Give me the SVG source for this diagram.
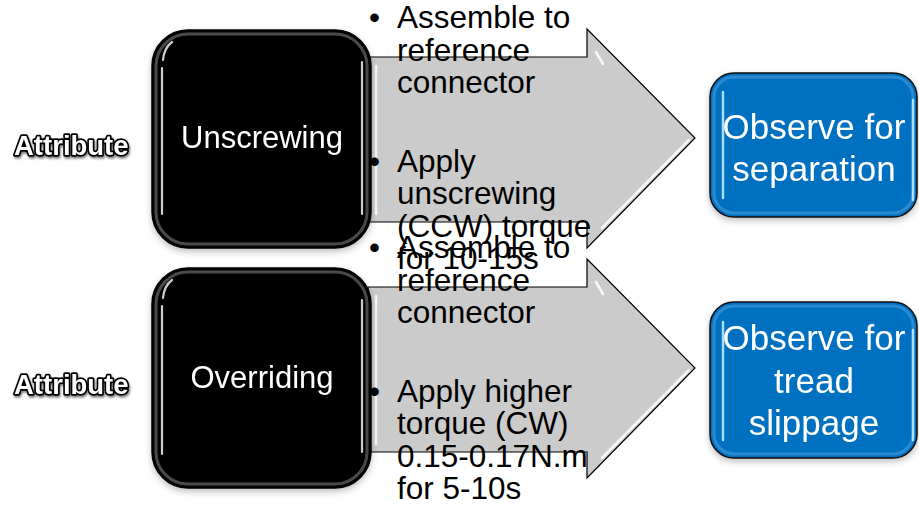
<svg xmlns="http://www.w3.org/2000/svg" width="919" height="506" viewBox="0 0 919 506">
<defs>
<style>
.arrow{fill:#cbcbcb;stroke:#000;stroke-width:1.2}
.ahl{fill:none;stroke:#fff;stroke-width:2.5;stroke-linecap:round;opacity:.85}
.blk{fill:#000;stroke:#000;stroke-width:1.5}
.blkring{fill:none;stroke:#6a6a6a;stroke-width:3;opacity:.7}
.hl{fill:none;stroke:#fff;stroke-width:2.2;stroke-linecap:round;opacity:.8}
.blu{fill:#0070c0;stroke:#111;stroke-width:1.5}
.bluring{fill:none;stroke:#3d95d6;stroke-width:3;opacity:.7}
.bhl{fill:none;stroke:#bfe6ff;stroke-width:2.5;stroke-linecap:round;opacity:.9}
.t{font-family:"Liberation Sans",Arial,sans-serif}
.bt{font-size:31.5px;fill:#000}
.wt{font-size:31px;fill:#fff;text-anchor:middle}
.ot{font-size:35px;fill:#fff;text-anchor:middle}
.attr{font-size:27.5px;font-weight:bold;fill:#fff;stroke:#000;stroke-width:3.4;paint-order:stroke;stroke-linejoin:round}
</style>
<filter id="sh" x="-10%" y="-10%" width="120%" height="125%">
<feDropShadow dx="0" dy="3" stdDeviation="3" flood-color="#000" flood-opacity="0.25"/>
</filter>
<filter id="tsh" x="-10%" y="-20%" width="120%" height="150%">
<feDropShadow dx="1" dy="2" stdDeviation="1.2" flood-color="#000" flood-opacity="0.5"/>
</filter>
</defs>

<g id="connectors">
<g id="arrow1">
<polygon class="arrow" points="368,57 587,57 587,29 695,138 587,248 587,222 368,222"/>
<path class="ahl" d="M376,66 L376,214"/>
<path class="ahl" d="M596,52 L603,64"/>
<path class="ahl" d="M602,228 L689,140"/>
</g>
<g id="arrow2">
<polygon class="arrow" points="368,287 587,287 587,259 695,368 587,478 587,452 368,452"/>
<path class="ahl" d="M376,296 L376,444"/>
<path class="ahl" d="M596,282 L603,294"/>
<path class="ahl" d="M602,458 L689,370"/>
</g>
</g>

<g id="label-attr1">
<text class="t attr" x="14" y="155" filter="url(#tsh)">Attribute</text>
</g>
<g id="label-attr2">
<text class="t attr" x="14" y="394" filter="url(#tsh)">Attribute</text>
</g>

<g id="node-unscrewing" filter="url(#sh)">
<rect class="blk" x="152" y="30" width="219" height="218" rx="36"/>
<rect class="blkring" x="156" y="34" width="211" height="210" rx="32"/>
<path class="hl" d="M162,68 L162,214"/>
<path class="hl" d="M172,42 Q164,48 163,60"/>
<path class="hl" d="M362,62 L362,214"/>
<text class="t wt" x="262" y="148">Unscrewing</text>
</g>

<g id="node-overriding" filter="url(#sh)">
<rect class="blk" x="152" y="268" width="219" height="220" rx="36"/>
<rect class="blkring" x="156" y="272" width="211" height="212" rx="32"/>
<path class="hl" d="M162,306 L162,454"/>
<path class="hl" d="M172,280 Q164,286 163,298"/>
<path class="hl" d="M362,300 L362,452"/>
<text class="t wt" x="262" y="388">Overriding</text>
</g>

<g id="node-separation" filter="url(#sh)">
<rect class="blu" x="710" y="73" width="207" height="144" rx="24"/>
<rect class="bluring" x="714" y="77" width="199" height="136" rx="20"/>
<path class="bhl" d="M723,92 L723,198"/>
<path class="bhl" d="M913,100 L913,200"/>
<text class="t ot" x="814" y="139">Observe for</text>
<text class="t ot" x="814" y="181">separation</text>
</g>

<g id="node-slippage" filter="url(#sh)">
<rect class="blu" x="710" y="302" width="207" height="156" rx="24"/>
<rect class="bluring" x="714" y="306" width="199" height="148" rx="20"/>
<path class="bhl" d="M723,322 L723,440"/>
<path class="bhl" d="M913,330 L913,440"/>
<text class="t ot" x="814" y="350">Observe for</text>
<text class="t ot" x="814" y="392.5">tread</text>
<text class="t ot" x="814" y="435">slippage</text>
</g>

<g id="text-steps1">
<text class="t bt" x="369" y="28">•</text>
<text class="t bt" x="397" y="28">Assemble to</text>
<text class="t bt" x="397" y="60.5">reference</text>
<text class="t bt" x="397" y="93">connector</text>
<text class="t bt" x="369" y="172">•</text>
<text class="t bt" x="397" y="172">Apply</text>
<text class="t bt" x="397" y="204">unscrewing</text>
<text class="t bt" x="397" y="236.5">(CCW) torque</text>
<text class="t bt" x="397" y="268.5">for 10-15s</text>
</g>

<g id="text-steps2">
<text class="t bt" x="369" y="258">•</text>
<text class="t bt" x="397" y="258">Assemble to</text>
<text class="t bt" x="397" y="290.5">reference</text>
<text class="t bt" x="397" y="323">connector</text>
<text class="t bt" x="369" y="402">•</text>
<text class="t bt" x="397" y="402">Apply higher</text>
<text class="t bt" x="397" y="434">torque (CW)</text>
<text class="t bt" x="397" y="466.5">0.15-0.17N.m</text>
<text class="t bt" x="397" y="498.5">for 5-10s</text>
</g>
</svg>
